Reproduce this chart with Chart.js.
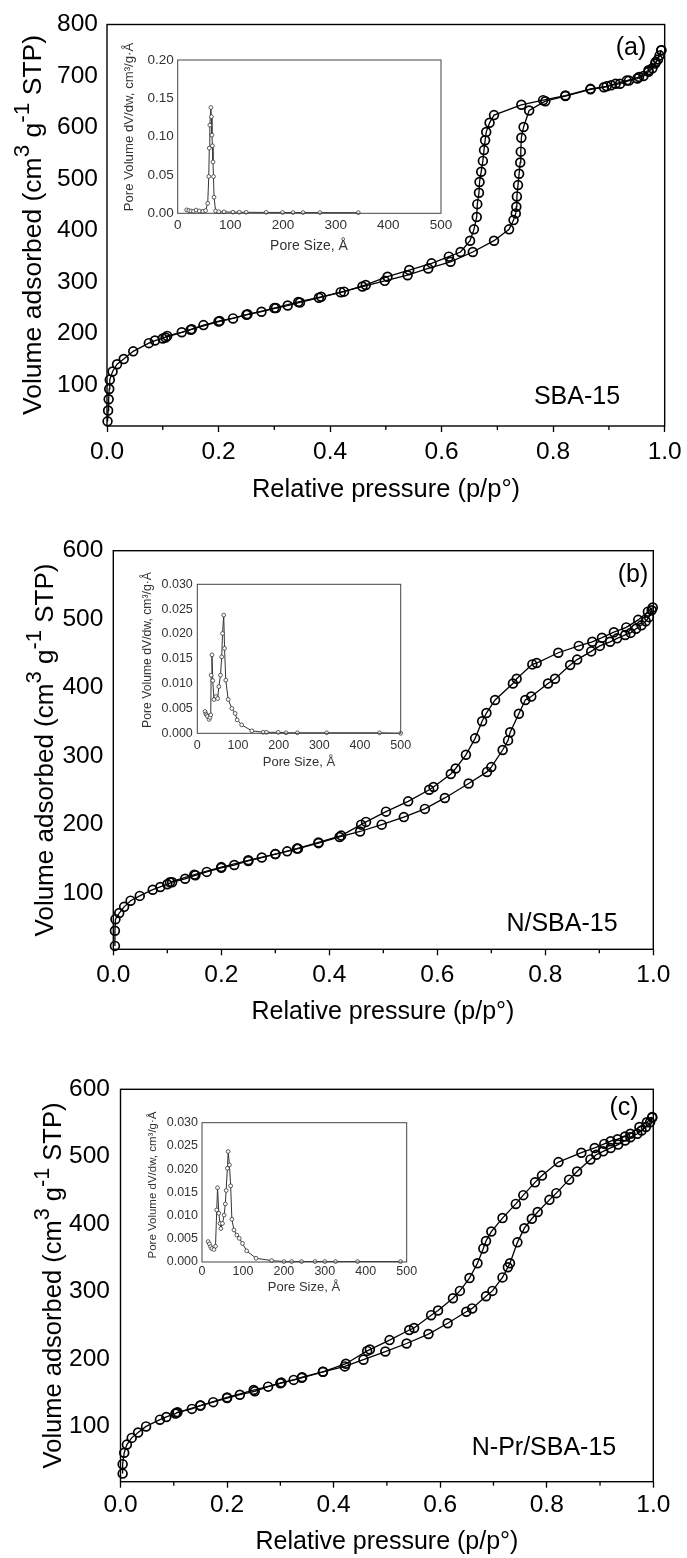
<!DOCTYPE html>
<html><head><meta charset="utf-8">
<script src="https://cdn.jsdelivr.net/npm/chart.js@4.4.1/dist/chart.umd.min.js"></script>
<style>
html,body{margin:0;padding:0;background:#fff;}
#wrap{position:relative;width:687px;height:1558px;overflow:hidden;background:#fff;}
canvas{position:absolute;}
</style></head><body><div id="wrap">
<canvas id="ma" width="687" height="515" style="left:0;top:0"></canvas>
<canvas id="mb" width="687" height="515" style="left:0;top:515px"></canvas>
<canvas id="mc" width="687" height="528" style="left:0;top:1030px"></canvas>
<canvas id="ia" width="355" height="220" style="left:105px;top:40px"></canvas>
<canvas id="ib" width="295" height="215" style="left:125px;top:565px"></canvas>
<canvas id="ic" width="295" height="205" style="left:130px;top:1100px"></canvas>
</div>
<script>
const FONT = "'Liberation Sans', Arial, Helvetica, sans-serif";
Chart.defaults.font.family = FONT;

// ---------- tick values ----------
const pressureTicks = [0, 0.2, 0.4, 0.6, 0.8, 1.0];
const pressureMinorTicks = [0.1, 0.3, 0.5, 0.7, 0.9];
const volumeTicksA = [100, 200, 300, 400, 500, 600, 700, 800];
const volumeTicksBC = [100, 200, 300, 400, 500, 600];
const poreSizeTicks = [0, 100, 200, 300, 400, 500];
const psdTicksA = [0, 0.05, 0.10, 0.15, 0.20];
const psdTicksBC = [0, 0.005, 0.010, 0.015, 0.020, 0.025, 0.030];

// ---------- (a) SBA-15 ----------
const aAdsX = [0.001, 0.002, 0.003, 0.004, 0.005, 0.010, 0.018, 0.030, 0.047, 0.075, 0.086, 0.100, 0.108, 0.134, 0.152, 0.173, 0.202, 0.226, 0.252, 0.277, 0.303, 0.324, 0.346, 0.380, 0.419, 0.458, 0.498, 0.539, 0.576, 0.616, 0.656, 0.694, 0.721, 0.729, 0.733, 0.734, 0.735, 0.737, 0.739, 0.741, 0.742, 0.743, 0.747, 0.757, 0.786, 0.822, 0.867, 0.891, 0.904, 0.920, 0.936, 0.951, 0.962, 0.971, 0.978, 0.983, 0.988, 0.991, 0.994];
const aAdsY = [29, 50, 72, 92, 110, 126, 140, 150, 165, 181, 186, 190, 195, 202, 208, 216, 224, 229, 237, 242, 249, 254, 260, 269, 280, 291, 302, 313, 326, 339, 358, 380, 402, 420, 433, 446, 466, 488, 510, 532, 553, 580, 601, 633, 651, 661, 674, 678, 682, 685, 691, 695, 700, 708, 715, 724, 732, 740, 750];
const aDesX = [0.994, 0.984, 0.971, 0.954, 0.932, 0.912, 0.896, 0.867, 0.822, 0.782, 0.743, 0.694, 0.686, 0.680, 0.678, 0.676, 0.674, 0.671, 0.668, 0.667, 0.664, 0.663, 0.658, 0.651, 0.634, 0.613, 0.582, 0.542, 0.503, 0.464, 0.425, 0.384, 0.343, 0.300, 0.250, 0.200, 0.150, 0.105];
const aDesY = [750, 727, 711, 698, 691, 685, 680, 675, 662, 653, 644, 624, 609, 591, 575, 556, 535, 514, 494, 473, 451, 426, 402, 380, 358, 349, 336, 323, 310, 294, 281, 271, 261, 249, 236, 223, 207, 192];
const aPsdX = [17, 21, 25, 30, 35, 41, 48, 53, 57, 59, 60, 61, 63, 64, 65, 66, 67, 68, 69, 72, 78, 88, 105, 117, 130, 168, 199, 219, 238, 270, 343];
const aPsdY = [0.0045, 0.0035, 0.003, 0.0026, 0.0042, 0.003, 0.0026, 0.0035, 0.013, 0.048, 0.085, 0.115, 0.138, 0.126, 0.102, 0.088, 0.067, 0.048, 0.021, 0.003, 0.002, 0.0018, 0.0015, 0.0014, 0.0013, 0.0012, 0.0011, 0.001, 0.001, 0.0009, 0.0008];

// ---------- (b) N/SBA-15 ----------
const bAdsX = [0.003, 0.003, 0.004, 0.011, 0.020, 0.032, 0.049, 0.073, 0.087, 0.100, 0.109, 0.133, 0.152, 0.173, 0.200, 0.224, 0.250, 0.275, 0.300, 0.322, 0.342, 0.380, 0.419, 0.457, 0.497, 0.538, 0.577, 0.614, 0.658, 0.692, 0.700, 0.721, 0.731, 0.735, 0.751, 0.763, 0.774, 0.805, 0.818, 0.846, 0.859, 0.885, 0.901, 0.920, 0.933, 0.948, 0.958, 0.968, 0.978, 0.986, 0.992, 0.997];
const bAdsY = [23, 45, 62, 71, 80, 89, 96, 105, 109, 113, 116, 121, 126, 131, 137, 141, 147, 152, 157, 161, 165, 173, 182, 190, 200, 211, 223, 239, 260, 277, 284, 309, 323, 335, 362, 382, 387, 406, 413, 433, 441, 453, 461, 467, 472, 477, 480, 486, 491, 497, 503, 513];
const bDesX = [0.999, 0.990, 0.972, 0.950, 0.927, 0.905, 0.887, 0.862, 0.824, 0.784, 0.776, 0.747, 0.740, 0.707, 0.691, 0.683, 0.670, 0.653, 0.634, 0.625, 0.593, 0.585, 0.546, 0.505, 0.468, 0.459, 0.422, 0.380, 0.340, 0.300, 0.250, 0.200, 0.150, 0.105];
const bDesY = [517, 511, 499, 488, 481, 473, 467, 461, 451, 436, 434, 413, 406, 382, 363, 351, 326, 302, 282, 274, 255, 251, 234, 219, 204, 200, 184, 174, 165, 157, 148, 138, 127, 116];
const bPsdX = [19, 21, 23, 25, 29, 31, 33, 34, 36, 38, 41, 46, 50, 53, 57, 60, 62, 65, 67, 70, 76, 85, 93, 98, 109, 134, 162, 170, 199, 218, 246, 318, 448, 500];
const bPsdY = [0.0044, 0.0039, 0.0037, 0.0034, 0.0028, 0.0032, 0.0037, 0.0117, 0.0158, 0.0106, 0.0068, 0.0074, 0.0070, 0.0094, 0.0117, 0.0154, 0.0201, 0.0238, 0.0171, 0.0107, 0.0068, 0.0050, 0.0040, 0.0027, 0.0017, 0.0005, 0.0002, 0.0002, 0.0002, 0.0001, 0.0001, 0.0001, 0.0001, 0.0000];

// ---------- (c) N-Pr/SBA-15 ----------
const cAdsX = [0.004, 0.004, 0.007, 0.012, 0.021, 0.033, 0.048, 0.074, 0.086, 0.103, 0.107, 0.134, 0.150, 0.174, 0.200, 0.224, 0.252, 0.277, 0.302, 0.325, 0.341, 0.380, 0.421, 0.456, 0.497, 0.537, 0.578, 0.614, 0.649, 0.660, 0.686, 0.698, 0.717, 0.727, 0.731, 0.745, 0.758, 0.772, 0.783, 0.805, 0.818, 0.842, 0.857, 0.882, 0.893, 0.906, 0.920, 0.934, 0.947, 0.957, 0.970, 0.978, 0.986, 0.994, 0.998];
const cAdsY = [30, 44, 61, 73, 83, 91, 100, 110, 114, 119, 121, 126, 131, 136, 142, 147, 152, 159, 165, 169, 173, 181, 189, 199, 211, 223, 237, 253, 270, 275, 293, 301, 321, 336, 342, 373, 394, 408, 418, 436, 446, 466, 478, 496, 503, 508, 513, 518, 524, 529, 534, 539, 544, 551, 558];
const cDesX = [0.998, 0.988, 0.974, 0.957, 0.947, 0.933, 0.920, 0.908, 0.890, 0.865, 0.822, 0.791, 0.778, 0.756, 0.742, 0.717, 0.696, 0.686, 0.681, 0.670, 0.655, 0.637, 0.624, 0.596, 0.583, 0.551, 0.542, 0.505, 0.468, 0.463, 0.423, 0.380, 0.340, 0.300, 0.250, 0.200, 0.150, 0.105];
const cDesY = [559, 551, 544, 534, 530, 526, 523, 519, 513, 506, 492, 472, 462, 443, 430, 409, 389, 375, 364, 342, 320, 301, 290, 272, 265, 246, 243, 228, 214, 212, 193, 181, 172, 164, 154, 143, 131, 120];
const cPsdX = [15, 18, 21, 24, 29, 33, 36, 38, 41, 44, 46, 50, 54, 57, 59, 62, 64, 67, 70, 73, 78, 85, 91, 99, 109, 132, 170, 200, 219, 243, 276, 300, 326, 380, 485];
const cPsdY = [0.0044, 0.0039, 0.0033, 0.0029, 0.0027, 0.0034, 0.0112, 0.0160, 0.0105, 0.0083, 0.0072, 0.0083, 0.0101, 0.0125, 0.0154, 0.0202, 0.0238, 0.0209, 0.0164, 0.0092, 0.0069, 0.0058, 0.0051, 0.0040, 0.0024, 0.0008, 0.0003, 0.0001, 0.0001, 0.0001, 0.0001, 0.0001, 0.0001, 0.0001, 0.0001];

// ---------- helpers ----------
function pts(xs, ys) { return xs.map((x, i) => ({ x: x, y: ys[i] })); }
function setTicks(arr) { return s => { s.ticks = arr.map(v => ({ value: v })); }; }

const DECOR = {};

function drawRich(ctx, t, ox, oy) {
  const size = t.size, sup = t.supScale || 0.85, raise = (t.raise || 0.42) * size;
  ctx.save();
  ctx.translate(t.x - ox, t.y - oy);
  if (t.rot) ctx.rotate(t.rot);
  ctx.fillStyle = t.color || '#000';
  ctx.textBaseline = 'middle';
  ctx.textAlign = 'left';
  let total = 0;
  const ws = t.segs.map(s => {
    ctx.font = (s.sup ? size * sup : size) + 'px ' + FONT;
    const w = ctx.measureText(s.t).width; total += w; return w;
  });
  let cx = -total / 2;
  t.segs.forEach((s, i) => {
    ctx.font = (s.sup ? size * sup : size) + 'px ' + FONT;
    ctx.fillText(s.t, cx, s.sup ? -raise : 0);
    cx += ws[i];
  });
  ctx.restore();
}

const decor = {
  id: 'decor',
  afterDraw(chart) {
    const d = DECOR[chart.canvas.id];
    if (!d) return;
    const ctx = chart.ctx, a = chart.chartArea;
    ctx.save();
    ctx.strokeStyle = d.frameColor; ctx.lineWidth = d.frameWidth;
    ctx.strokeRect(a.left, a.top, a.right - a.left, a.bottom - a.top);
    if (d.minorX) {
      const xs = chart.scales.x;
      ctx.lineWidth = 1.3; ctx.strokeStyle = '#000';
      d.minorX.forEach(v => {
        const px = xs.getPixelForValue(v);
        ctx.beginPath(); ctx.moveTo(px, a.bottom); ctx.lineTo(px, a.bottom + d.minorLen); ctx.stroke();
      });
    }
    d.texts.forEach(t => drawRich(ctx, t, d.ox, d.oy));
    ctx.restore();
  }
};

function txt(s, x, y, size, extra) { return Object.assign({ segs: [{ t: s }], x: x, y: y, size: size }, extra || {}); }
function yTitle(x, y, size) {
  return { segs: [{ t: 'Volume adsorbed (cm' }, { t: '3', sup: true }, { t: ' g' }, { t: '-1', sup: true }, { t: ' STP)' }],
    x: x, y: y, size: size, rot: -Math.PI / 2, supScale: 0.85, raise: 0.42 };
}

function mainChart(id, c) {
  DECOR[id] = { ox: 0, oy: c.top, frameColor: '#000', frameWidth: 1.4, minorX: pressureMinorTicks, minorLen: 4, texts: c.texts };
  const sets = c.series.map(s => ({
    data: pts(s[0], s[1]), showLine: true, borderColor: '#000', borderWidth: 1.3,
    pointRadius: 4.4, pointHoverRadius: 4.4, pointBorderWidth: 1.7, pointBorderColor: '#000',
    pointBackgroundColor: 'rgba(255,255,255,0)', clip: false, tension: 0
  }));
  return new Chart(document.getElementById(id), {
    type: 'scatter',
    data: { datasets: sets },
    options: {
      responsive: false, animation: false, devicePixelRatio: 1,
      events: [],
      layout: { padding: { top: c.area.t - c.top, right: 687 - c.area.r, left: 0, bottom: 0 } },
      plugins: { legend: { display: false }, tooltip: { enabled: false } },
      scales: {
        x: {
          type: 'linear', min: 0, max: 1,
          afterFit: s => { s.height = c.top + c.h - c.area.b; },
          afterBuildTicks: setTicks(pressureTicks),
          ticks: { callback: v => Number(v).toFixed(1), color: '#000', font: { size: 24.5 }, padding: c.xPad, maxRotation: 0, autoSkip: false },
          grid: { display: true, drawOnChartArea: false, drawTicks: true, tickLength: 6, tickWidth: 1.3, tickColor: '#000' },
          border: { display: false }
        },
        y: {
          type: 'linear', min: c.yMin, max: c.yMax,
          afterFit: s => { s.width = c.area.l; },
          afterBuildTicks: setTicks(c.yTicks),
          ticks: { color: '#000', font: { size: 24.5 }, padding: c.yPad, autoSkip: false },
          grid: { display: false, drawTicks: false },
          border: { display: false }
        }
      }
    },
    plugins: [decor]
  });
}

function insetChart(id, c) {
  DECOR[id] = { ox: c.left, oy: c.top, frameColor: '#444', frameWidth: 1, texts: c.texts };
  return new Chart(document.getElementById(id), {
    type: 'scatter',
    data: { datasets: [{
      data: pts(c.xs, c.ys), showLine: true, borderColor: '#333', borderWidth: 1,
      pointRadius: 1.9, pointHoverRadius: 1.9, pointBorderWidth: 0.8, pointBorderColor: '#333',
      pointBackgroundColor: '#fff', clip: false, tension: 0
    }] },
    options: {
      responsive: false, animation: false, devicePixelRatio: 1,
      events: [],
      layout: { padding: { top: c.area.t - c.top, right: c.left + c.w - c.area.r, left: 0, bottom: 0 } },
      plugins: { legend: { display: false }, tooltip: { enabled: false } },
      scales: {
        x: {
          type: 'linear', min: 0, max: 500,
          afterFit: s => { s.height = c.top + c.h - c.area.b; },
          afterBuildTicks: setTicks(poreSizeTicks),
          ticks: { color: '#333', font: { size: c.fs }, padding: c.xPad, maxRotation: 0, autoSkip: false },
          grid: { display: false, drawTicks: false }, border: { display: false }
        },
        y: {
          type: 'linear', min: 0, max: c.yMax,
          afterFit: s => { s.width = c.area.l - c.left; },
          afterBuildTicks: setTicks(c.yTicks),
          ticks: { callback: v => Number(v).toFixed(c.dec), color: '#333', font: { size: c.fs }, padding: c.yPad, autoSkip: false },
          grid: { display: false, drawTicks: false }, border: { display: false }
        }
      }
    },
    plugins: [decor]
  });
}

// ---------- main panels ----------
mainChart('ma', {
  top: 0, h: 515, area: { l: 107, r: 665, t: 24.5, b: 426 },
  yMin: 20, yMax: 800, yTicks: volumeTicksA, yPad: 9, xPad: 5.3,
  series: [[aAdsX, aAdsY], [aDesX, aDesY]],
  texts: [yTitle(34, 225, 26.5), txt('Relative pressure (p/p°)', 386, 490, 25.5),
          txt('SBA-15', 577, 397, 25), txt('(a)', 631, 48, 25)]
});
mainChart('mb', {
  top: 515, h: 515, area: { l: 113.3, r: 653.3, t: 550.7, b: 949.3 },
  yMin: 18, yMax: 600, yTicks: volumeTicksBC, yPad: 10, xPad: 5.3,
  series: [[bAdsX, bAdsY], [bDesX, bDesY]],
  texts: [yTitle(46, 750, 26), txt('Relative pressure (p/p°)', 383, 1012, 25),
          txt('N/SBA-15', 562, 924, 25), txt('(b)', 633, 575, 25)]
});
mainChart('mc', {
  top: 1030, h: 528, area: { l: 120.5, r: 653.3, t: 1089.3, b: 1481.7 },
  yMin: 18, yMax: 600, yTicks: volumeTicksBC, yPad: 10.5, xPad: 3,
  series: [[cAdsX, cAdsY], [cDesX, cDesY]],
  texts: [yTitle(54, 1285.5, 25.5), txt('Relative pressure (p/p°)', 387, 1541.7, 25),
          txt('N-Pr/SBA-15', 544, 1448, 25), txt('(c)', 624, 1108, 25)]
});

// ---------- insets ----------
function psdTitle(x, y, size) { return txt('Pore Volume dV/dw, cm³/g·Å', x, y, size, { rot: -Math.PI / 2, color: '#333' }); }
insetChart('ia', {
  left: 105, top: 40, w: 355, h: 220, area: { l: 177.7, r: 441, t: 60, b: 213.3 },
  xs: aPsdX, ys: aPsdY, yMax: 0.20, yTicks: psdTicksA, dec: 2, fs: 13.5, xPad: 4, yPad: 4,
  texts: [psdTitle(129, 127, 13.2), txt('Pore Size, Å', 309, 246, 14, { color: '#333' })]
});
insetChart('ib', {
  left: 125, top: 565, w: 295, h: 215, area: { l: 197.3, r: 400.7, t: 584.3, b: 733.3 },
  xs: bPsdX, ys: bPsdY, yMax: 0.030, yTicks: psdTicksBC, dec: 3, fs: 12.5, xPad: 4.3, yPad: 4.5,
  texts: [psdTitle(147.5, 650, 12.2), txt('Pore Size, Å', 299, 762.7, 13, { color: '#333' })]
});
insetChart('ic', {
  left: 130, top: 1100, w: 295, h: 205, area: { l: 202, r: 406.7, t: 1122.7, b: 1262 },
  xs: cPsdX, ys: cPsdY, yMax: 0.030, yTicks: psdTicksBC, dec: 3, fs: 12.5, xPad: 2.5, yPad: 4,
  texts: [psdTitle(153, 1185, 11.5), txt('Pore Size, Å', 304, 1287, 13, { color: '#333' })]
});
</script>
</body></html>
